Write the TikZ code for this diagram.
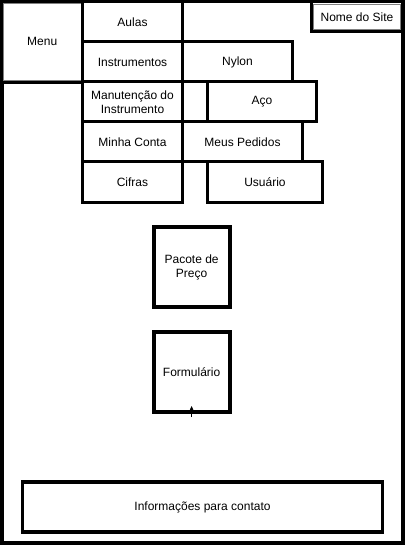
\documentclass[tikz,border=0pt]{standalone}
\usepackage{fontspec}
\setmainfont{Liberation Sans}
\usetikzlibrary{arrows.meta,positioning}
\tikzset{
  pg/.style={x=1pt, y=-1pt, every node/.style={font=\fontsize{12}{14}\selectfont, outer sep=0pt, inner sep=1pt, align=center}},
  tab/.style={draw, line width=3pt, fill=white, minimum height=40pt},
  hdr/.style={draw=black!50, line width=0.8pt, fill=white},
  blk/.style={draw, line width=4pt, fill=white, minimum width=76pt, minimum height=80pt},
  link/.style={-{Stealth[length=5pt,width=4.5pt]}, line width=1pt, shorten <=-5pt}
}

\begin{document}
\begin{tikzpicture}[pg]
\useasboundingbox (0,0) rectangle (405,545);
\draw[line width=4pt] (2,1.5) rectangle (402.5,542.5);
\draw[line width=3pt] (2,1.5) rectangle (82.5,82.5);
\draw[line width=3pt] (311.7,1.5) rectangle (402.5,31.7);
\node[hdr, minimum width=77.5pt, minimum height=76.5pt, anchor=north west] (menu) at (3.5,3.5) {Menu};
\node[hdr, minimum width=87pt, minimum height=25pt, anchor=north west] (site) at (313.5,4.5) {Nome do Site};
\node[tab, minimum width=100pt, anchor=north west] (aulas) at (82.5,2) {Aulas};
\node[tab, minimum width=100pt, below=0pt of aulas] (instr) {Instrumentos};
\node[tab, minimum width=100pt, below=0pt of instr] (manut) {Manutenção do\\Instrumento};
\node[tab, minimum width=100pt, below=0pt of manut] (conta) {Minha Conta};
\node[tab, minimum width=100pt, below=0pt of conta] (cifras) {Cifras};
\node[tab, minimum width=110pt, right=0pt of instr] (nylon) {Nylon};
\node[tab, minimum width=109pt, right=25pt of manut] (aco) {Aço};
\node[tab, minimum width=120pt, right=0pt of conta] (pedidos) {Meus Pedidos};
\node[tab, minimum width=115pt, right=25pt of cifras] (user) {Usuário};
\node[blk] (preco) at (191.6,267) {Pacote de\\Preço};
\node[blk] (form) at (191.6,372) {Formulário};
\coordinate[above=6pt of form.south] (tip);
\draw[link] (form.south) -- (tip);
\node[draw, line width=3.5pt, minimum width=360pt, minimum height=50pt] (info) at (202.5,507) {Informações para contato};
\end{tikzpicture}
\end{document}
